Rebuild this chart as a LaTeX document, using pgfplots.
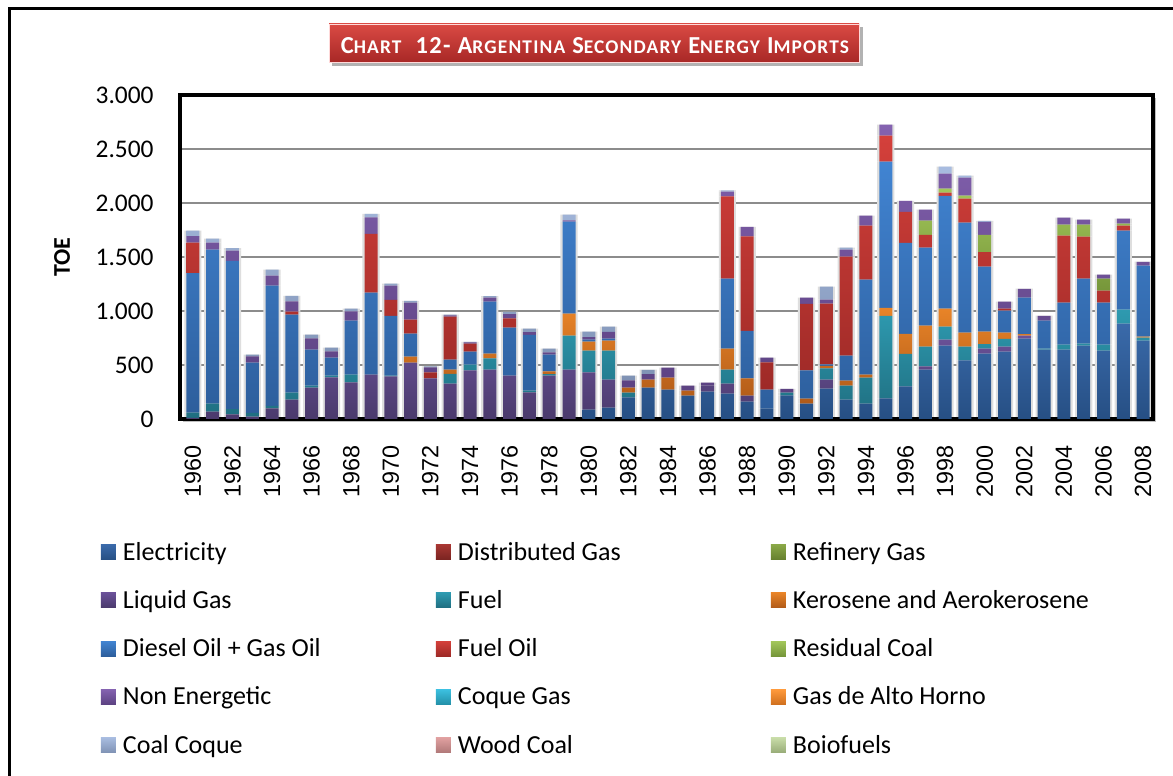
\documentclass[border=0pt]{standalone}
\usepackage{pgfplots}
\pgfplotsset{compat=1.18}
\usepackage{pgfplotstable}
\usepackage{fontspec}
\setmainfont{Carlito}
\newfontfamily\arialf{Liberation Sans}

\definecolor{elT}{HTML}{3A6AAA}\definecolor{elB}{HTML}{264F84}
\definecolor{dgT}{HTML}{A83733}\definecolor{dgB}{HTML}{7A2421}
\definecolor{rgT}{HTML}{8AA847}\definecolor{rgB}{HTML}{66802E}
\definecolor{lgT}{HTML}{6A5198}\definecolor{lgB}{HTML}{4A3A6C}
\definecolor{fuT}{HTML}{2E9AB0}\definecolor{fuB}{HTML}{1F6E80}
\definecolor{keT}{HTML}{E88428}\definecolor{keB}{HTML}{B05A18}
\definecolor{diT}{HTML}{4184D2}\definecolor{diB}{HTML}{2D5E9C}
\definecolor{foT}{HTML}{D4403B}\definecolor{foB}{HTML}{9E2A27}
\definecolor{rcT}{HTML}{A3C75A}\definecolor{rcB}{HTML}{76963A}
\definecolor{neT}{HTML}{8462B0}\definecolor{neB}{HTML}{5C4282}
\definecolor{cgT}{HTML}{3CC0E0}\definecolor{cgB}{HTML}{2390A8}
\definecolor{gaT}{HTML}{FF9A3C}\definecolor{gaB}{HTML}{D0701E}
\definecolor{ccT}{HTML}{A8BCE0}\definecolor{ccB}{HTML}{7F92B4}
\definecolor{wcT}{HTML}{E0A0A0}\definecolor{wcB}{HTML}{B07878}
\definecolor{bfT}{HTML}{C8DCA8}\definecolor{bfB}{HTML}{98AC78}
\definecolor{titT}{HTML}{DA4A44}\definecolor{titB}{HTML}{A82826}

\pgfplotstableread{
year el dg rg lg fu ke di fo rc ne cg ga cc wc bf
1960 0 0 0 10 50 0 1290 284 0 59 0 0 52 0 0
1961 0 0 0 68 74 0 1426 0 0 65 0 0 37 0 0
1962 0 0 0 43 49 0 1373 0 0 93 0 0 25 0 0
1963 0 0 0 22 34 0 466 0 0 59 0 0 15 0 0
1964 0 0 0 99 22 0 1114 0 0 93 0 0 56 0 0
1965 0 0 0 179 65 0 722 28 0 96 0 0 49 0 0
1966 0 0 0 290 19 0 333 0 0 105 0 0 34 0 0
1967 0 0 0 386 15 0 167 0 0 59 0 0 34 0 0
1968 0 0 0 339 71 0 500 0 0 86 0 0 25 0 0
1969 0 0 0 410 0 0 759 546 0 151 0 0 34 0 0
1970 0 0 0 395 6 0 555 148 0 130 0 0 19 0 0
1971 0 0 0 522 0 56 213 130 0 157 0 0 15 0 0
1972 0 0 0 376 0 0 0 56 0 46 0 0 9 0 0
1973 0 0 0 327 90 40 93 398 0 12 0 0 6 0 0
1974 0 0 0 451 52 0 120 74 0 12 0 0 6 0 0
1975 0 0 0 457 105 43 481 0 0 37 0 0 15 0 0
1976 0 0 0 401 0 0 444 86 0 40 0 0 22 0 0
1977 0 0 0 247 15 0 518 0 0 25 0 0 31 0 0
1978 0 0 0 401 15 25 154 0 0 22 0 0 34 0 0
1979 0 0 0 457 315 204 852 0 0 12 0 0 52 0 0
1980 86 0 0 346 201 83 19 0 0 22 0 0 52 0 0
1981 105 0 0 259 268 93 19 0 0 62 0 0 49 0 0
1982 201 0 0 0 43 46 0 0 0 68 0 0 43 0 0
1983 290 0 0 0 0 74 0 0 0 52 0 0 40 0 0
1984 272 0 0 0 0 111 0 0 0 93 0 0 0 0 0
1985 216 0 0 0 0 46 0 0 0 46 0 0 0 0 0
1986 253 0 0 59 0 0 0 0 0 25 0 0 0 0 0
1987 235 0 0 93 130 194 648 762 0 43 0 0 12 0 0
1988 160 0 0 56 0 160 441 873 0 89 0 0 0 0 0
1989 96 0 0 0 0 0 176 253 0 43 0 0 0 0 0
1990 219 0 0 0 25 0 0 0 0 34 0 0 0 0 0
1991 142 0 0 0 0 46 262 617 0 56 0 0 0 0 0
1992 281 0 0 83 105 22 15 562 0 37 0 0 120 0 0
1993 179 0 0 0 130 46 231 917 0 65 0 0 19 0 0
1994 142 0 0 0 241 28 880 500 0 93 0 0 0 0 0
1995 191 0 0 0 765 74 1352 241 0 102 0 0 0 0 0
1996 302 0 0 0 302 185 842 287 0 102 0 0 0 0 0
1997 457 0 0 31 182 194 722 120 130 102 0 0 0 0 0
1998 679 0 0 56 120 167 1043 31 37 139 0 0 65 0 0
1999 543 0 0 0 127 130 1018 222 28 167 0 0 19 0 0
2000 605 0 0 46 43 114 602 136 160 120 0 0 9 0 0
2001 623 0 0 46 74 56 204 19 0 65 0 0 0 0 0
2002 744 0 0 28 0 15 336 0 0 83 0 0 0 0 0
2003 642 0 0 0 9 0 259 0 0 46 0 0 0 0 0
2004 642 0 0 0 46 0 389 620 102 65 0 0 0 0 0
2005 679 0 0 0 19 0 602 389 111 46 0 0 0 0 0
2006 633 0 0 0 56 0 389 111 111 37 0 0 0 0 0
2007 883 0 0 0 130 0 731 46 19 46 0 0 0 0 0
2008 725 0 0 0 28 9 657 0 0 37 0 0 0 0 0
}\data

\newcommand\smc[2]{#1{\fontsize{9.7}{11}\selectfont #2}}

\pgfplotsset{
  common/.style={
    width=486.5pt, height=162pt, scale only axis,
    at={(90pt,178.5pt)}, anchor=south west,
    xmin=1959.35, xmax=2008.5, ymin=0, ymax=3000,
  },
}

\begin{document}
\begin{tikzpicture}
\path[use as bounding box] (0,0) rectangle (586.5pt,388pt);
% outer frame
\draw[line width=1.5pt] (4.5pt,-5pt) -- (4.5pt,383.5pt) -- (600pt,383.5pt);
% axis frame shadow
\fill[black!25] (91.5pt,177pt) rectangle (578pt,339pt);
\fill[white] (90pt,178.5pt) rectangle (576.5pt,340.5pt);

% background axis: grid and bar shadows
\begin{axis}[common,
  ybar stacked, bar width=8.6pt,
  axis line style={draw=none},
  xtick=\empty, ytick={500,1000,...,3000}, yticklabels={},
  major tick length=0pt,
  ymajorgrids, grid style={line width=0.9pt, color=black!45},
]
\pgfplotsinvokeforeach{el,dg,rg,lg,fu,ke,di,fo,rc,ne,cg,ga,cc,wc,bf}{
  \addplot[draw=none, fill=black!13] table[x=year, y=#1] {\data};
}
\end{axis}

% main axis
\begin{axis}[common,
  ybar stacked, bar width=6.5pt,
  axis line style={line width=2pt},
  major tick length=0pt,
  xtick={1960,1962,...,2008},
  xticklabel style={/pgf/number format/1000 sep={}, /pgf/number format/assume math mode=true,
    font=\arialf\fontsize{11.7}{13}\selectfont, yshift=-13pt, rotate=90, anchor=east, inner sep=0pt},
  ytick={0,500,1000,...,3000},
  yticklabels={0,500,1.000,1.500,2.000,2.500,3.000},
  yticklabel style={font=\fontsize{12.7}{14}\selectfont, inner sep=0pt, xshift=-13pt, anchor=east},
  ylabel={\bfseries TOE},
  ylabel style={font=\fontsize{12}{14}\selectfont, at={(axis description cs:-0.1212,0.5)}, anchor=center},
  legend columns=3,
  legend cell align=left,
  legend image code/.code={\path[#1] (0pt,-3.75pt) rectangle (7.5pt,3.75pt);},
  legend style={draw=none, fill=none,
    at={(axis description cs:-0.0812,-0.3735)}, anchor=north west,
    inner sep=0pt, outer sep=0pt, row sep=12.15pt,
    nodes={inner sep=0pt, text height=10pt, text depth=2pt, font=\fontsize{13}{15}\selectfont},
    /tikz/every odd column/.append style={column sep=3.5pt},
    /tikz/every even column/.append style={column sep=6.5pt}},
]
\addplot[draw=none, top color=elT, bottom color=elB] table[x=year, y=el] {\data};
\addlegendentry{\makebox[150pt][l]{Electricity}}
\addplot[draw=none, top color=dgT, bottom color=dgB] table[x=year, y=dg] {\data};
\addlegendentry{\makebox[150pt][l]{Distributed Gas}}
\addplot[draw=none, top color=rgT, bottom color=rgB] table[x=year, y=rg] {\data};
\addlegendentry{\makebox[150pt][l]{Refinery Gas}}
\addplot[draw=none, top color=lgT, bottom color=lgB] table[x=year, y=lg] {\data};
\addlegendentry{\makebox[150pt][l]{Liquid Gas}}
\addplot[draw=none, top color=fuT, bottom color=fuB] table[x=year, y=fu] {\data};
\addlegendentry{\makebox[150pt][l]{Fuel}}
\addplot[draw=none, top color=keT, bottom color=keB] table[x=year, y=ke] {\data};
\addlegendentry{\makebox[150pt][l]{Kerosene and Aerokerosene}}
\addplot[draw=none, top color=diT, bottom color=diB] table[x=year, y=di] {\data};
\addlegendentry{\makebox[150pt][l]{Diesel Oil + Gas Oil}}
\addplot[draw=none, top color=foT, bottom color=foB] table[x=year, y=fo] {\data};
\addlegendentry{\makebox[150pt][l]{Fuel Oil}}
\addplot[draw=none, top color=rcT, bottom color=rcB] table[x=year, y=rc] {\data};
\addlegendentry{\makebox[150pt][l]{Residual Coal}}
\addplot[draw=none, top color=neT, bottom color=neB] table[x=year, y=ne] {\data};
\addlegendentry{\makebox[150pt][l]{Non Energetic}}
\addplot[draw=none, top color=cgT, bottom color=cgB] table[x=year, y=cg] {\data};
\addlegendentry{\makebox[150pt][l]{Coque Gas}}
\addplot[draw=none, top color=gaT, bottom color=gaB] table[x=year, y=ga] {\data};
\addlegendentry{\makebox[150pt][l]{Gas de Alto Horno}}
\addplot[draw=none, top color=ccT, bottom color=ccB] table[x=year, y=cc] {\data};
\addlegendentry{\makebox[150pt][l]{Coal Coque}}
\addplot[draw=none, top color=wcT, bottom color=wcB] table[x=year, y=wc] {\data};
\addlegendentry{\makebox[150pt][l]{Wood Coal}}
\addplot[draw=none, top color=bfT, bottom color=bfB] table[x=year, y=bf] {\data};
\addlegendentry{\makebox[150pt][l]{Boiofuels}}
\end{axis}

% title box
\fill[black!30] (166pt,355pt) rectangle (431.5pt,374.5pt);
\shade[top color=titT, bottom color=titB, draw=white!85!red, line width=0.4pt]
  (164.5pt,357pt) rectangle (429.5pt,376pt);
\node[text=white, font=\bfseries\fontsize{12.2}{13}\selectfont\addfontfeature{LetterSpace=6}, anchor=center]
  at (297.5pt,365.1pt) {\smc{C}{HART}\ \ 12- \smc{A}{RGENTINA} \smc{S}{ECONDARY} \smc{E}{NERGY} \smc{I}{MPORTS}};
\end{tikzpicture}
\end{document}
